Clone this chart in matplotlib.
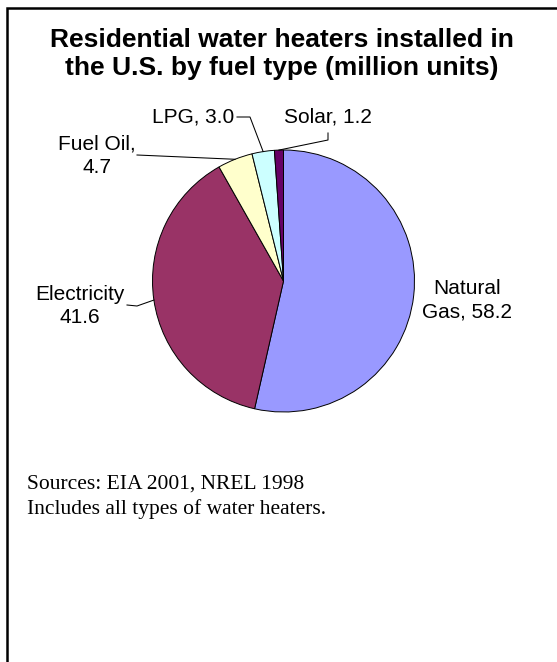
import numpy as np
import matplotlib.pyplot as plt

# Residential water heaters by fuel type (million units)
fuels = ["Natural Gas", "Electricity", "Fuel Oil", "LPG", "Solar"]
units = [58.2, 41.6, 4.7, 3.0, 1.2]
colors = ["#9999FF", "#993366", "#FFFFCC", "#CCFFFF", "#660066"]
label_fmt = ["Natural\nGas, {}", "Electricity\n{}", "Fuel Oil,\n{}", "LPG, {}", "Solar, {}"]

W, H = 557, 662
fig = plt.figure(figsize=(W / 100, H / 100), dpi=100)
ax = fig.add_axes([0, 0, 1, 1])

# work in pixel units, y measured from the top
def py(y):
    return H - y

cx, cy, r = 283.5, py(281), 131
wedges, _ = ax.pie(units, colors=colors, startangle=90, counterclock=False,
                   center=(cx, cy), radius=r,
                   wedgeprops=dict(edgecolor="black", linewidth=0.7))
ax.set_xlim(0, W)
ax.set_ylim(0, H)
ax.axis("off")

def edge_point(w):
    ang = np.deg2rad((w.theta1 + w.theta2) / 2)
    return cx + r * np.cos(ang), cy + r * np.sin(ang)

lab_font = dict(family="Liberation Sans", fontsize=15, ha="center", va="center",
                linespacing=1.3)

# label positions (x, y from top) and leader elbows
label_pos = [(467, 300), (80, 306), (97, 156), (193, 117), (328, 117)]
leaders = [None, [(127, 305), (137, 306)], [(137, 155)],
           [(237, 117), (250, 117)], [(328, 133), (328, 140)]]

for w, fmt, v, (lx, ly), pts in zip(wedges, label_fmt, units, label_pos, leaders):
    ax.text(lx, py(ly), fmt.format(v), **lab_font)
    if pts:
        ex, ey = edge_point(w)
        xs = [p[0] for p in pts] + [ex]
        ys = [py(p[1]) for p in pts] + [ey]
        ax.plot(xs, ys, color="black", linewidth=0.75)

ax.text(282, py(54), "Residential water heaters installed in\nthe U.S. by fuel type (million units)",
        family="Liberation Sans", fontsize=19, fontweight="bold", ha="center", va="center",
        linespacing=1.2)

ax.text(27, py(497), "Sources: EIA 2001, NREL 1998\nIncludes all types of water heaters.",
        family="Liberation Serif", fontsize=15.5, ha="left", va="center", linespacing=1.35)

# frame lines (top and left)
ax.plot([6.5, 6.5, W], [0, py(8), py(8)], color="black", linewidth=1.8,
        solid_joinstyle="miter")

fig.savefig("out.png", dpi=100)
